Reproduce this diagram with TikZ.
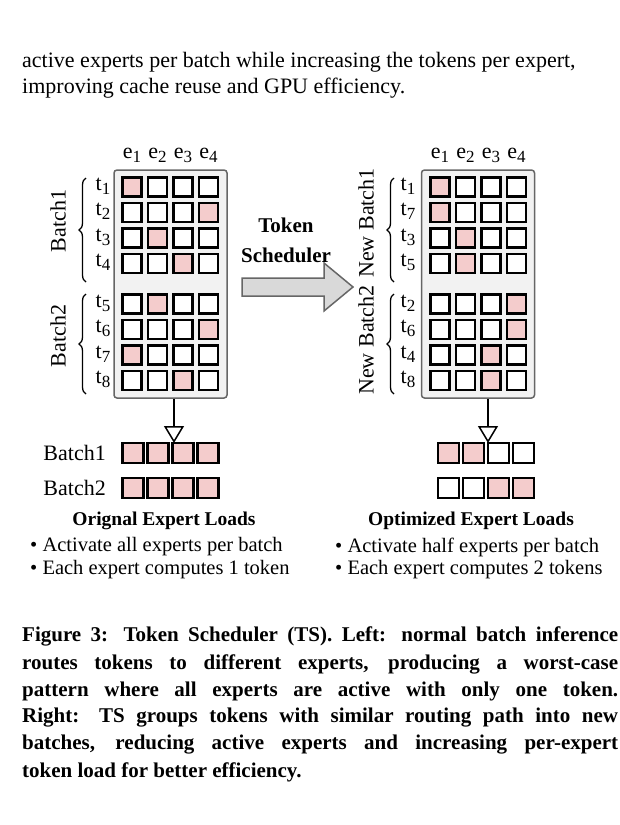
\documentclass[tikz,border=0pt]{standalone}
\usepackage{fontspec}
\setmainfont{Liberation Serif}
\usetikzlibrary{decorations.pathreplacing,arrows.meta}
\definecolor{pk}{HTML}{F4CCCC}
\definecolor{bx}{HTML}{F2F2F2}
\newcommand{\sbs}[2]{#1\raisebox{-4pt}{\fontsize{17}{17}\selectfont #2}}
\begin{document}
\begin{tikzpicture}[x=1pt,y=-1pt,
  cell/.style={draw=black,line width=2.2pt,minimum size=19pt,inner sep=0pt,fill=white},
  hot/.style={cell,fill=pk},
  lcell/.style={draw=black,line width=2.2pt,minimum width=21pt,minimum height=20pt,inner sep=0pt,fill=white},
  lhot/.style={lcell,fill=pk},
  box/.style={draw=gray!80!black,line width=1.5pt,fill=bx,rounded corners=3pt},
  lab/.style={font=\fontsize{22}{24}\selectfont,inner sep=0pt},
  brc/.style={decorate,decoration={brace,amplitude=7pt},line width=1.3pt},
  body/.style={font=\fontsize{22}{24}\selectfont,anchor=west,inner sep=0pt},
  captxt/.style={font=\bfseries\fontsize{21}{24}\selectfont,anchor=west,inner sep=0pt}]
\useasboundingbox (0,0) rectangle (620,825);
\clip (0,0) rectangle (620,825);
\node[body] (p1) at (22,62) {active experts per batch while increasing the tokens per expert,};
\node[body] (p2) at (22,88) {improving cache reuse and GPU efficiency.};
% containers
\node[box,minimum width=113pt,minimum height=228pt] (L) at (170.5,284) {};
\node[box,minimum width=113pt,minimum height=228pt] (R) at (478,284) {};
\def\ys{{187,212.5,238,263.5,304,329.5,355,380.5}}
\foreach \r/\h/\t in {0/1/1,1/4/2,2/2/3,3/3/4,4/2/5,5/4/6,6/1/7,7/3/8}{
  \pgfmathsetmacro\yy{\ys[\r]}
  \foreach \c in {1,...,4}{
    \ifnum\c=\h \node[hot] (l\r\c) at ({106.5+25.5*\c},\yy) {};
    \else \node[cell] (l\r\c) at ({106.5+25.5*\c},\yy) {}; \fi}
  \node[lab] (lt\r) at (103,\yy-1) {\sbs{t}{\t}};
}
\foreach \r/\h/\t in {0/1/1,1/1/7,2/2/3,3/2/5,4/4/2,5/4/6,6/3/4,7/3/8}{
  \pgfmathsetmacro\yy{\ys[\r]}
  \foreach \c in {1,...,4}{
    \ifnum\c=\h \node[hot] (r\r\c) at ({414.5+25.5*\c},\yy) {};
    \else \node[cell] (r\r\c) at ({414.5+25.5*\c},\yy) {}; \fi}
  \node[lab] (rt\r) at (408,\yy-1) {\sbs{t}{\t}};
}
\foreach \c in {1,...,4}{
  \node[lab] (le\c) at ({106.5+25.5*\c},155) {\sbs{e}{\c}};
  \node[lab] (re\c) at ({414.5+25.5*\c},155) {\sbs{e}{\c}};
}
% braces
\draw[brc] (86,282) -- (86,178);
\draw[brc] (86,394) -- (86,294);
\draw[brc] (394,282) -- (394,178);
\draw[brc] (394,394) -- (394,294);
\node[lab,rotate=90] (b1) at (58,221) {Batch1};
\node[lab,rotate=90] (b2) at (58,336) {Batch2};
\node[lab,rotate=90] (nb1) at (366,223) {New Batch1};
\node[lab,rotate=90] (nb2) at (366,340) {New Batch2};
% block arrow
\draw[draw=gray!80!black,fill=gray!30,line width=1.5pt,line join=miter]
  (242,278) -- (324,278) -- (324,263) -- (353,287) -- (324,311) -- (324,296) -- (242,296) -- cycle;
\node[font=\bfseries\fontsize{21}{24}\selectfont,align=center] (ts) at (286,240) {Token\\[6pt]Scheduler};
% load rows
\foreach \c/\a/\b in {1/1/0,2/1/0,3/0/1,4/0/1}{
  \node[lhot] (la\c) at ({108+25*\c},453) {};
  \node[lhot] (lb\c) at ({108+25*\c},488) {};
  \ifnum\a=1 \node[lhot] (ra\c) at ({423.5+25*\c},453) {}; \else \node[lcell] (ra\c) at ({423.5+25*\c},453) {}; \fi
  \ifnum\b=1 \node[lhot] (rb\c) at ({423.5+25*\c},488) {}; \else \node[lcell] (rb\c) at ({423.5+25*\c},488) {}; \fi
}
\node[lab,anchor=east] (lbl1) at (106,453) {Batch1};
\node[lab,anchor=east] (lbl2) at (106,488) {Batch2};
\coordinate (lt) at (174,443);
\coordinate (rtp) at (488,443);
\draw[line width=1.5pt,-{Triangle[open,length=17pt,width=20pt]}] (L.south -| lt) -- (lt);
\draw[line width=1.5pt,-{Triangle[open,length=17pt,width=20pt]}] (R.south -| rtp) -- (rtp);
\node[font=\bfseries\fontsize{19.5}{22}\selectfont] (t1) at (164,521) {Orignal Expert Loads};
\node[font=\bfseries\fontsize{19.5}{22}\selectfont] (t2) at (471,521) {Optimized Expert Loads};
\node[lab,anchor=west,font=\fontsize{20.5}{22}\selectfont] (a1) at (30,547) {\textbullet\ Activate all experts per batch};
\node[lab,anchor=west,font=\fontsize{20.5}{22}\selectfont] (a2) at (30,570) {\textbullet\ Each expert computes 1 token};
\node[lab,anchor=west,font=\fontsize{20.5}{22}\selectfont] (a3) at (335,547) {\textbullet\ Activate half experts per batch};
\node[lab,anchor=west,font=\fontsize{20.5}{22}\selectfont] (a4) at (335,570) {\textbullet\ Each expert computes 2 tokens};
% caption
\node[captxt] (c1) at (22,636) {\makebox[596pt][s]{Figure 3: Token Scheduler (TS). Left: normal batch inference}};
\node[captxt] (c2) at (22,664) {\makebox[596pt][s]{routes tokens to different experts, producing a worst-case}};
\node[captxt] (c3) at (22,691) {\makebox[596pt][s]{pattern where all experts are active with only one token.}};
\node[captxt] (c4) at (22,718) {\makebox[596pt][s]{Right: TS groups tokens with similar routing path into new}};
\node[captxt] (c5) at (22,745) {\makebox[596pt][s]{batches, reducing active experts and increasing per-expert}};
\node[captxt] (c6) at (22,772) {token load for better efficiency.};
\end{tikzpicture}
\end{document}
